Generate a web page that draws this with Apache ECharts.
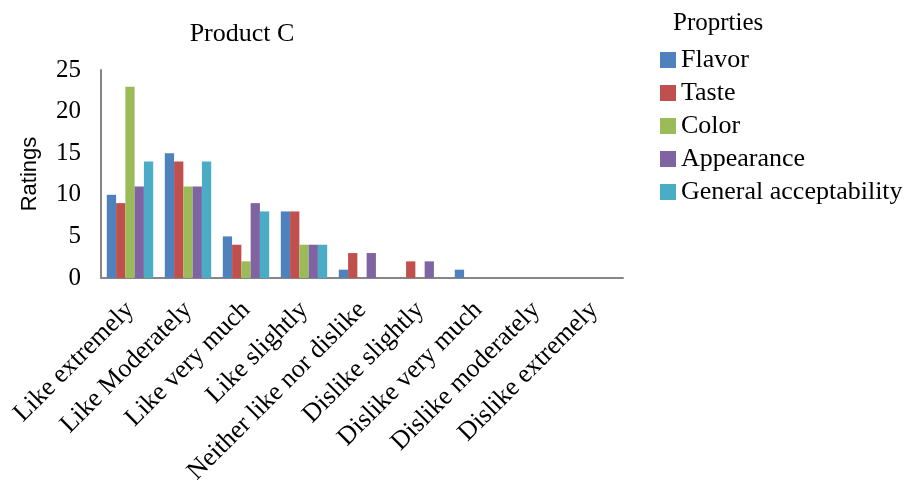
<!DOCTYPE html>
<html><head><meta charset="utf-8">
<script src="https://cdn.jsdelivr.net/npm/echarts@6/dist/echarts.min.js"></script>
<style>html,body{margin:0;padding:0;background:#fff}#c{width:909px;height:482px}</style>
</head><body><div id="c"></div>
<script>
const categories = ["Like extremely","Like Moderately","Like very much","Like slightly","Neither like nor dislike","Dislike slightly","Dislike very much","Dislike moderately","Dislike extremely"];
const seriesNames = ["Flavor","Taste","Color","Appearance","General acceptability"];
const flavor = [10,15,5,8,1,0,1,0,0];
const taste = [9,14,4,8,3,2,0,0,0];
const color = [23,11,2,4,0,0,0,0,0];
const appearance = [11,11,9,4,3,2,0,0,0];
const general = [14,14,8,4,0,0,0,0,0];
const yTicks = [0,5,10,15,20,25];
const colors = ["#4F81BD","#C0504D","#9BBB59","#8064A2","#4BACC6"];
const dataSets = [flavor,taste,color,appearance,general];
const font = "Liberation Serif";
const chart = echarts.init(document.getElementById('c'));
chart.setOption({
  animation:false,
  color: colors,
  textStyle:{fontFamily:font},
  title:[
    {text:"Product C", left:237, top:16, textAlign:'center', textStyle:{fontFamily:font,fontSize:26,fontWeight:'normal',color:'#000'}},
    {text:"Proprties", left:668, top:6, textStyle:{fontFamily:font,fontSize:25,fontWeight:'normal',color:'#000'}}
  ],
  legend:{
    orient:'vertical', left:660, top:47, padding:0, itemWidth:16, itemHeight:16, itemGap:7,
    icon:'rect', data:seriesNames,
    textStyle:{fontFamily:font,fontSize:26,color:'#000',padding:[0,0,0,0]}
  },
  grid:{left:101,right:286,top:70,bottom:204,containLabel:false,outerBoundsMode:'none'},
  xAxis:{
    type:'category', data:categories,
    axisLine:{lineStyle:{color:'#868686',width:2}},
    axisTick:{show:false},
    axisLabel:{rotate:45,interval:0,fontFamily:font,fontSize:26,color:'#000',margin:28}
  },
  yAxis:{
    type:'value', min:0, max:25, interval:5,
    name:'Ratings', nameLocation:'middle', nameGap:60, nameRotate:90,
    nameTextStyle:{fontFamily:'Liberation Sans',fontSize:22,color:'#000'},
    axisLine:{show:true,lineStyle:{color:'#868686',width:2}},
    axisTick:{show:false},
    splitLine:{show:false},
    axisLabel:{fontFamily:font,fontSize:25,color:'#000',margin:20,
      formatter:v=>yTicks.includes(v)?String(v):''}
  },
  series: seriesNames.map((n,i)=>({
    name:n, type:'bar', data:dataSets[i], barGap:'0%', barCategoryGap:'20%',
    itemStyle:{color:colors[i]}
  }))
});
</script></body></html>
